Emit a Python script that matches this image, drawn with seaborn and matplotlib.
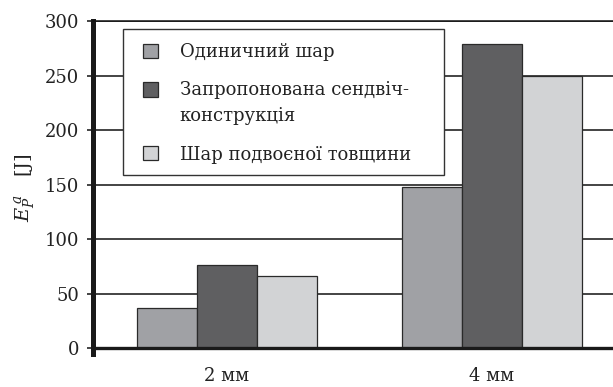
import matplotlib
matplotlib.use("Agg")
import matplotlib.pyplot as plt
from matplotlib.patches import Rectangle
from matplotlib.legend_handler import HandlerPatch
import seaborn as sns
import pandas as pd

# Energy absorbed by the layers, per plate thickness
thickness = ["2 мм", "4 мм"]
single_layer = [36.4, 147.4]
sandwich = [76.1, 278.6]
double_layer = [66.3, 249.8]

series_names = ["Одиничний шар", "Запропонована сендвіч-\nконструкція", "Шар подвоєної товщини"]
series_colors = ["#a0a1a5", "#5f5f61", "#d2d3d5"]
y_ticks = [0, 50, 100, 150, 200, 250, 300]

df = pd.DataFrame({
    "thickness": thickness * 3,
    "series": [series_names[0]] * 2 + [series_names[1]] * 2 + [series_names[2]] * 2,
    "energy": single_layer + sandwich + double_layer,
})

sns.set_theme(style="white")
plt.rcParams["font.family"] = ["DejaVu Serif"]
plt.rcParams["mathtext.fontset"] = "dejavuserif"

W, H = 613, 387
fig = plt.figure(figsize=(W / 100, H / 100), dpi=100)
ax = fig.add_axes([93 / W, (H - 354) / H, 1 - 93 / W, (354 - 21) / H])

sns.barplot(data=df, x="thickness", y="energy", hue="series",
            palette=series_colors, width=0.68, edgecolor="#2a2a2a",
            linewidth=0.9, saturation=1, ax=ax, legend=True)

ax.set_xlim(-0.506, 1.458)
ax.set_ylim(-5.5, 300)
ax.set_yticks(y_ticks)
ax.set_yticklabels([str(v) for v in y_ticks])

# horizontal rules behind the bars
ax.set_axisbelow(True)
ax.yaxis.grid(True, color="#111111", linewidth=1.1)
ax.xaxis.grid(False)

ax.spines["bottom"].set_position(("data", 0))
ax.spines["bottom"].set_linewidth(2.4)
ax.spines["bottom"].set_color("#1a1a1a")
ax.spines["left"].set_linewidth(3.6)
ax.spines["left"].set_color("#1a1a1a")
ax.spines["top"].set_visible(True)
ax.spines["top"].set_linewidth(1.1)
ax.spines["top"].set_color("#111111")
ax.spines["right"].set_visible(False)

ax.tick_params(axis="y", which="both", left=True, length=4, width=1.1,
               color="#111111", pad=6, labelsize=13, labelcolor="#222222")
ax.tick_params(axis="x", which="both", bottom=False, length=0, pad=14,
               labelsize=13, labelcolor="#222222")

ax.set_xlabel("")
ax.set_ylabel(r"$E_P^{\,a}$   [J]", fontsize=14, color="#222222", labelpad=5)

# legend: square swatches, the two-line entry keeps its swatch on the first line
LEG_FS = 13


def make_swatch(legend, orig_handle, xdescent, ydescent, width, height, fontsize):
    shift = 0.0
    if "\n" in orig_handle.get_label():
        shift = 0.8 * fontsize
    return Rectangle((-xdescent, -ydescent + shift), width, height)


handles, labels = ax.get_legend_handles_labels()
for h, lab in zip(handles, labels):
    h.set_label(lab)
leg = ax.legend(handles, labels, loc="upper left",
                bbox_to_anchor=(143 / W, (H - 43) / H), bbox_transform=fig.transFigure,
                borderaxespad=0, borderpad=0, fontsize=LEG_FS, frameon=False,
                handlelength=0.83, handleheight=0.83, handletextpad=1.2,
                labelspacing=1.12, labelcolor="#222222",
                handler_map={h: HandlerPatch(patch_func=make_swatch) for h in handles})
for t in leg.get_texts():
    t.set_linespacing(1.58)

# white box framing the legend
box = Rectangle((123 / W, (H - 175) / H), (444 - 123) / W, (175 - 29) / H,
                transform=fig.transFigure, facecolor="white", edgecolor="#333333",
                linewidth=1.0, zorder=4.5, clip_on=False)
ax.add_patch(box)

fig.savefig("out.png", dpi=100)
